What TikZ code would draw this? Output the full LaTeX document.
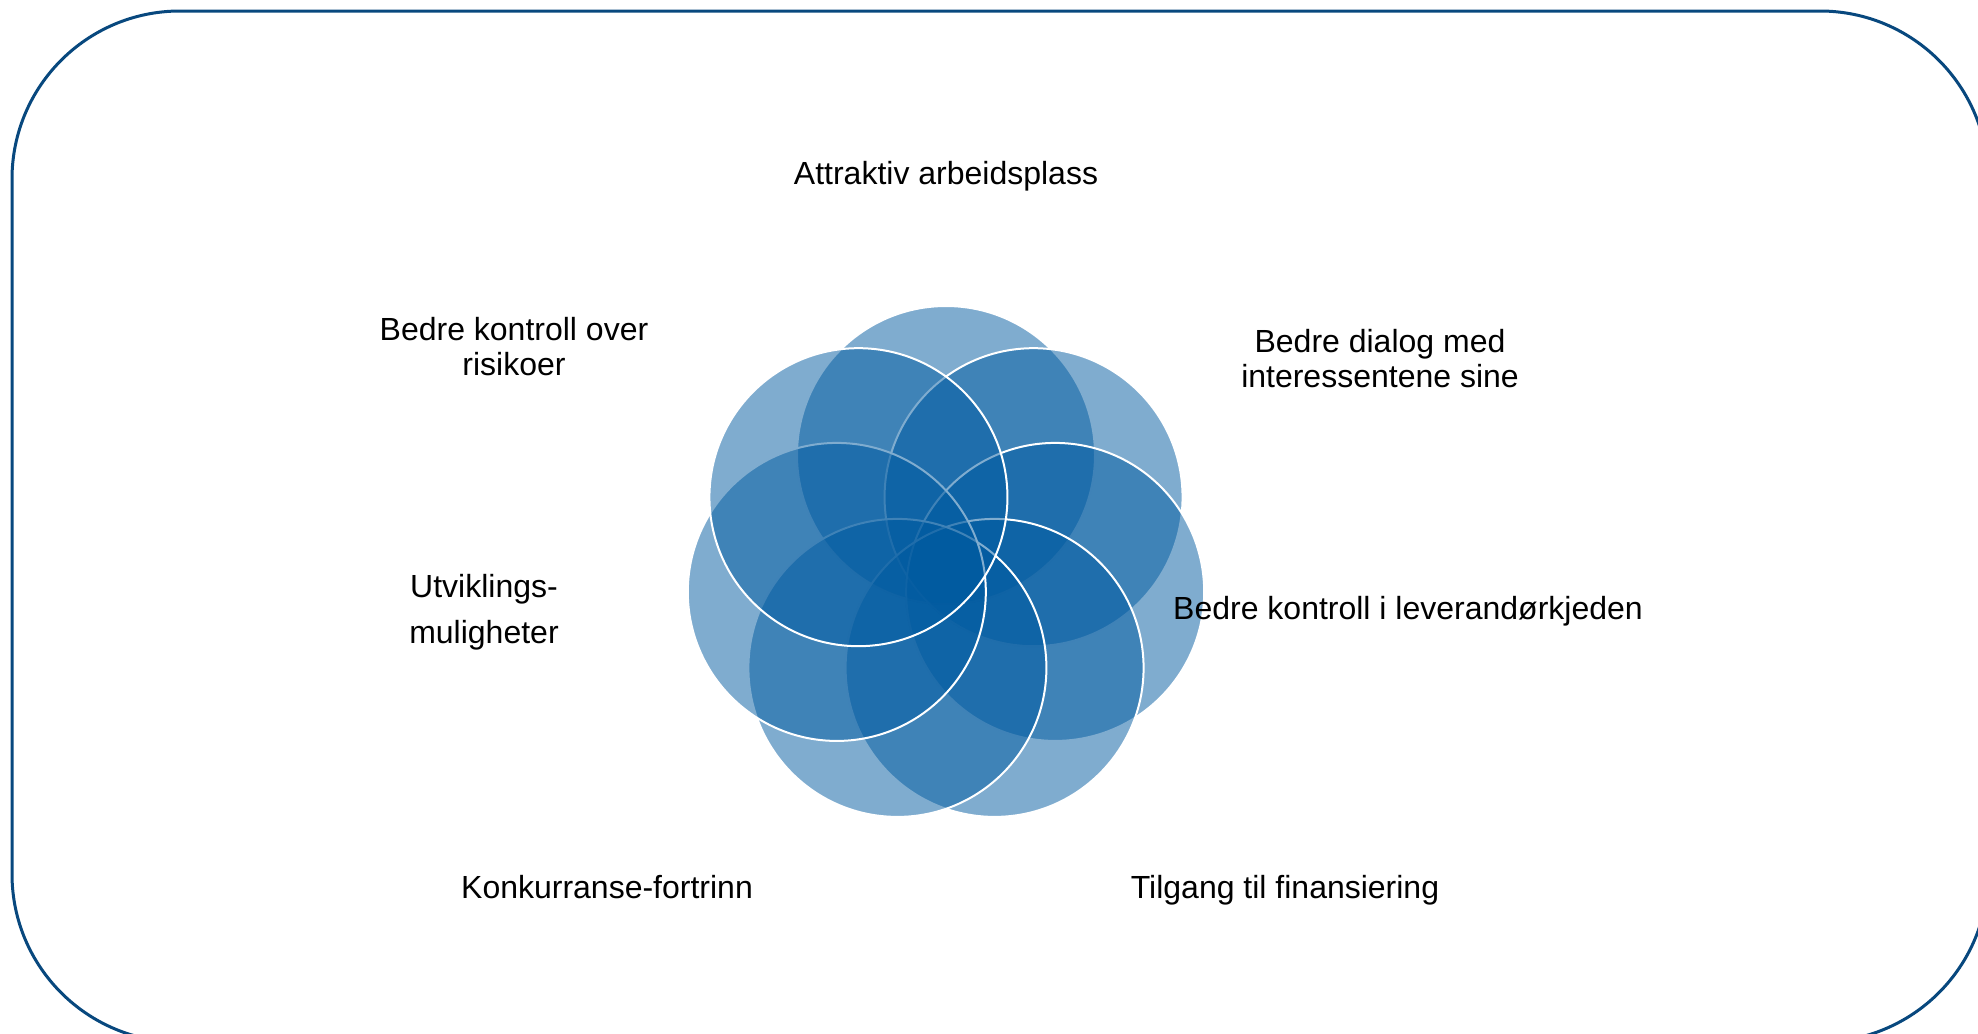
\documentclass[tikz,border=0pt]{standalone}
\usepackage{fontspec}
\setmainfont{Liberation Sans}
\definecolor{framecol}{RGB}{8,72,126}
\definecolor{petalblue}{RGB}{0,90,160}
\begin{document}
\begin{tikzpicture}[x=0.5pt,y=-0.5pt,
  petal/.style={circle, draw=white, line width=1pt, fill=petalblue, fill opacity=0.5, draw opacity=1, minimum size=149pt, inner sep=0pt, outer sep=0pt},
  lbl/.style={font=\fontsize{16}{17.5}\selectfont, text=black, align=center, anchor=base, inner sep=0pt},
  lblwide/.style={lbl, font=\fontsize{16}{23}\selectfont}]
\useasboundingbox (0,0) rectangle (1978,1034);
\begin{scope}
\clip (0,0) rectangle (1978,1034);
\draw[framecol, line width=1.5pt, rounded corners=84pt] (12,11) rectangle (1988,1042);
\end{scope}
\foreach \k in {1,...,7} {
  \pgfmathsetmacro\a{90-(\k-1)*360/7}
  \node[petal] (c\k) at ({946+112*cos(\a)},{567-112*sin(\a)}) {};
}
\node[lbl] (t1) at (946,184) {Attraktiv arbeidsplass};
\node[lbl] (t2) at (1380,387) {Bedre dialog med\\interessentene sine};
\node[lbl] (t3) at (1408,619) {Bedre kontroll i leverandørkjeden};
\node[lbl] (t4) at (1285,898) {Tilgang til finansiering};
\node[lbl] (t5) at (607,898) {Konkurranse-fortrinn};
\node[lblwide] (t6) at (484,643) {Utviklings-\\muligheter};
\node[lbl] (t7) at (514,375) {Bedre kontroll over\\risikoer};
\end{tikzpicture}
\end{document}
